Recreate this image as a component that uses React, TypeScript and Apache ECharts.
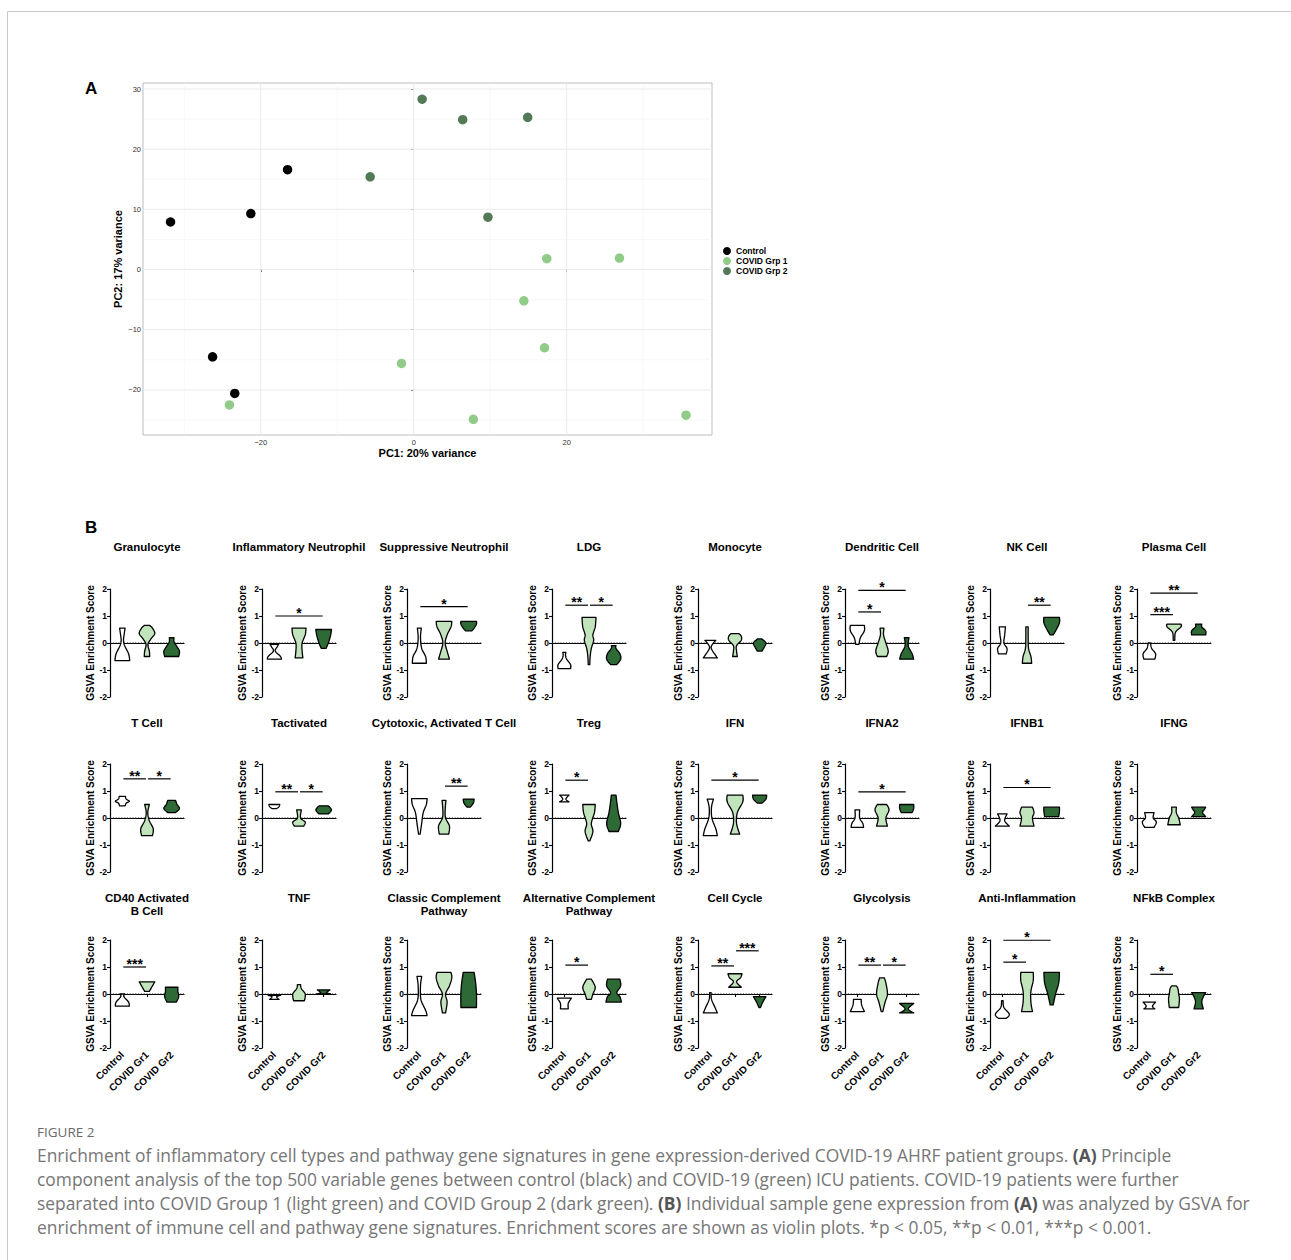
import React, { useEffect, useRef } from 'react';
import * as echarts from 'echarts';

// ---------------- DATA ----------------
// Panel A: PCA scores [PC1, PC2]
const pcaControl = [[-31.8, 7.9], [-21.3, 9.3], [-16.5, 16.6], [-26.3, -14.5], [-23.4, -20.6]];
const pcaGrp1 = [[-24.1, -22.5], [-1.6, -15.6], [7.8, -24.9], [14.4, -5.2], [17.1, -13.0], [17.4, 1.8], [26.9, 1.9], [35.6, -24.2]];
const pcaGrp2 = [[1.1, 28.3], [6.4, 24.9], [14.9, 25.3], [-5.7, 15.4], [9.7, 8.7]];
const pcaXTicks = [-20, 0, 20];
const pcaYTicks = [-20, -10, 0, 10, 20, 30];
const pcaXMinor = [-30, -10, 10, 30];
const pcaYMinor = [-25, -15, -5, 5, 15, 25];
const pcaLegend = ['Control', 'COVID Grp 1', 'COVID Grp 2'];

// Panel B: violin outlines, per group: [score, relative half-width] from min to max
const groupLabels = ['Control', 'COVID Gr1', 'COVID Gr2'];
const yTicksB = [-2, -1, 0, 1, 2];

const granulocyte = [
  [[-0.65, 0.95], [-0.4, 0.8], [-0.1, 0.3], [0.1, 0.15], [0.35, 0.25], [0.55, 0.35]],
  [[-0.5, 0.35], [-0.3, 0.3], [-0.05, 0.12], [0.15, 0.5], [0.35, 1.0], [0.55, 0.7], [0.65, 0.35]],
  [[-0.5, 0.9], [-0.3, 1.0], [-0.1, 0.6], [0.05, 0.3], [0.2, 0.3]],
];
const inflammatoryNeutrophil = [
  [[-0.6, 0.9], [-0.5, 0.8], [-0.3, 0.12], [-0.15, 0.35], [-0.05, 0.55]],
  [[-0.55, 0.5], [-0.3, 0.4], [0, 0.4], [0.3, 0.8], [0.55, 0.9]],
  [[-0.2, 0.3], [0, 0.6], [0.3, 0.9], [0.5, 1.0]],
];
const suppressiveNeutrophil = [
  [[-0.75, 0.9], [-0.5, 0.8], [-0.2, 0.3], [0.2, 0.15], [0.55, 0.25]],
  [[-0.6, 0.7], [-0.3, 0.4], [0, 0.15], [0.3, 0.4], [0.6, 0.9], [0.8, 1.0]],
  [[0.45, 0.4], [0.55, 0.7], [0.7, 1.0], [0.8, 1.0]],
];
const ldg = [
  [[-0.95, 0.8], [-0.8, 0.8], [-0.6, 0.3], [-0.45, 0.15], [-0.35, 0.2]],
  [[-0.8, 0.1], [-0.5, 0.15], [-0.2, 0.3], [0.1, 0.6], [0.3, 0.5], [0.6, 0.8], [0.95, 0.9]],
  [[-0.8, 0.4], [-0.6, 0.9], [-0.4, 0.8], [-0.2, 0.3], [-0.1, 0.3]],
];
const monocyte = [
  [[-0.55, 0.9], [-0.3, 0.3], [-0.15, 0.1], [0, 0.4], [0.1, 0.7]],
  [[-0.5, 0.3], [-0.3, 0.2], [-0.1, 0.2], [0.1, 0.8], [0.25, 0.8], [0.35, 0.5]],
  [[-0.3, 0.3], [-0.15, 0.6], [0, 0.8], [0.15, 0.3]],
];
const dendriticCell = [
  [[-0.05, 0.2], [0.2, 0.4], [0.45, 0.9], [0.65, 0.9]],
  [[-0.5, 0.6], [-0.3, 0.8], [0, 0.5], [0.3, 0.2], [0.55, 0.25]],
  [[-0.6, 0.9], [-0.4, 0.7], [-0.1, 0.2], [0.2, 0.3]],
];
const nkCell = [
  [[-0.4, 0.5], [-0.2, 0.6], [0, 0.2], [0.3, 0.3], [0.6, 0.4]],
  [[-0.75, 0.6], [-0.5, 0.5], [-0.2, 0.2], [0.2, 0.15], [0.6, 0.15]],
  [[0.3, 0.2], [0.5, 0.6], [0.75, 1.0], [0.95, 1.0]],
];
const plasmaCell = [
  [[-0.6, 0.7], [-0.4, 0.8], [-0.2, 0.3], [0, 0.15]],
  [[0.1, 0.1], [0.4, 0.2], [0.6, 0.9], [0.7, 0.9]],
  [[0.3, 0.9], [0.45, 0.9], [0.6, 0.4], [0.7, 0.4]],
];
const tCell = [
  [[0.45, 0.35], [0.55, 0.5], [0.62, 0.9], [0.7, 0.5], [0.8, 0.4]],
  [[-0.65, 0.7], [-0.4, 0.8], [-0.1, 0.3], [0.2, 0.1], [0.5, 0.3]],
  [[0.2, 0.5], [0.35, 1.0], [0.5, 0.7], [0.65, 0.5]],
];
const tActivated = [
  [[0.35, 0.3], [0.42, 0.6], [0.5, 0.7]],
  [[-0.3, 0.6], [-0.15, 0.8], [0, 0.2], [0.3, 0.3]],
  [[0.15, 0.6], [0.3, 1.0], [0.45, 0.6]],
];
const cytotoxicTCell = [
  [[-0.6, 0.1], [-0.2, 0.3], [0.2, 0.5], [0.5, 0.9], [0.72, 1.0]],
  [[-0.6, 0.6], [-0.3, 0.7], [0, 0.2], [0.3, 0.15], [0.65, 0.25]],
  [[0.4, 0.2], [0.55, 0.6], [0.7, 0.7]],
];
const treg = [
  [[0.6, 0.6], [0.7, 0.2], [0.85, 0.6]],
  [[-0.85, 0.1], [-0.5, 0.5], [-0.2, 0.3], [0.2, 0.7], [0.5, 0.8]],
  [[-0.5, 0.6], [-0.2, 0.9], [0.2, 0.6], [0.6, 0.4], [0.85, 0.3]],
];
const ifn = [
  [[-0.65, 0.9], [-0.4, 0.7], [0, 0.2], [0.4, 0.15], [0.7, 0.4]],
  [[-0.6, 0.6], [-0.2, 0.2], [0.2, 0.3], [0.6, 1.0], [0.85, 1.0]],
  [[0.55, 0.3], [0.7, 0.8], [0.85, 0.9]],
];
const ifna2 = [
  [[-0.35, 0.8], [-0.2, 0.7], [0, 0.3], [0.3, 0.3]],
  [[-0.3, 0.7], [0, 0.5], [0.3, 0.9], [0.5, 0.6]],
  [[0.2, 0.7], [0.35, 0.9], [0.5, 0.9]],
];
const ifnb1 = [
  [[-0.3, 0.9], [-0.1, 0.3], [0.15, 0.6]],
  [[-0.3, 0.9], [0, 0.7], [0.2, 0.9], [0.4, 0.7]],
  [[0.05, 0.9], [0.25, 1.0], [0.4, 1.0]],
];
const ifng = [
  [[-0.35, 0.6], [-0.15, 0.9], [0, 0.5], [0.2, 0.6]],
  [[-0.25, 0.8], [0, 0.6], [0.2, 0.3], [0.4, 0.3]],
  [[0.05, 0.9], [0.2, 0.5], [0.3, 0.7], [0.4, 0.9]],
];
const cd40BCell = [
  [[-0.45, 0.9], [-0.3, 0.8], [-0.1, 0.2], [0, 0.3]],
  [[0.1, 0.3], [0.3, 0.7], [0.45, 1.0]],
  [[-0.3, 0.6], [-0.1, 0.9], [0.1, 0.8], [0.25, 0.8]],
];
const tnf = [
  [[-0.2, 0.6], [-0.1, 0.3], [-0.05, 0.8]],
  [[-0.25, 0.7], [0, 0.8], [0.2, 0.3], [0.35, 0.2]],
  [[0, 0.9], [0.05, 0.4], [0.15, 0.8]],
];
const classicComplement = [
  [[-0.8, 1.0], [-0.6, 0.8], [-0.2, 0.2], [0.3, 0.15], [0.65, 0.3]],
  [[-0.7, 0.2], [-0.3, 0.4], [0, 0.2], [0.3, 0.7], [0.6, 1.0], [0.8, 0.9]],
  [[-0.5, 1.0], [0, 1.0], [0.4, 0.9], [0.8, 0.7]],
];
const altComplement = [
  [[-0.55, 0.5], [-0.35, 0.5], [-0.2, 0.8], [-0.15, 0.9]],
  [[-0.2, 0.3], [0, 0.5], [0.25, 0.8], [0.55, 0.3]],
  [[-0.3, 1.0], [-0.1, 0.8], [0.05, 0.4], [0.3, 0.9], [0.55, 0.8]],
];
const cellCycle = [
  [[-0.7, 0.9], [-0.5, 0.6], [-0.2, 0.15], [0.05, 0.1]],
  [[0.25, 0.8], [0.45, 0.2], [0.6, 0.7], [0.75, 0.9]],
  [[-0.5, 0.1], [-0.3, 0.4], [-0.1, 0.8]],
];
const glycolysis = [
  [[-0.65, 0.9], [-0.45, 0.6], [-0.3, 0.5], [-0.2, 0.5]],
  [[-0.65, 0.1], [-0.3, 0.4], [0, 0.7], [0.4, 0.5], [0.6, 0.3]],
  [[-0.7, 0.9], [-0.55, 0.2], [-0.35, 0.9]],
];
const antiInflammation = [
  [[-0.9, 0.5], [-0.75, 0.9], [-0.5, 0.2], [-0.25, 0.1]],
  [[-0.65, 0.7], [-0.3, 0.5], [0.1, 0.5], [0.5, 0.8], [0.8, 0.8]],
  [[-0.4, 0.2], [0, 0.5], [0.4, 0.9], [0.8, 1.0]],
];
const nfkbComplex = [
  [[-0.55, 0.7], [-0.45, 0.4], [-0.3, 0.8]],
  [[-0.5, 0.6], [-0.2, 0.7], [0, 0.6], [0.2, 0.5], [0.3, 0.3]],
  [[-0.55, 0.6], [-0.3, 0.4], [-0.1, 0.6], [0.05, 0.9]],
];

const panelTitles = [
  'Granulocyte', 'Inflammatory Neutrophil', 'Suppressive Neutrophil', 'LDG', 'Monocyte', 'Dendritic Cell', 'NK Cell', 'Plasma Cell',
  'T Cell', 'Tactivated', 'Cytotoxic, Activated T Cell', 'Treg', 'IFN', 'IFNA2', 'IFNB1', 'IFNG',
  'CD40 Activated\nB Cell', 'TNF', 'Classic Complement\nPathway', 'Alternative Complement\nPathway', 'Cell Cycle', 'Glycolysis', 'Anti-Inflammation', 'NFkB Complex',
];
const panelViolins = [
  granulocyte, inflammatoryNeutrophil, suppressiveNeutrophil, ldg, monocyte, dendriticCell, nkCell, plasmaCell,
  tCell, tActivated, cytotoxicTCell, treg, ifn, ifna2, ifnb1, ifng,
  cd40BCell, tnf, classicComplement, altComplement, cellCycle, glycolysis, antiInflammation, nfkbComplex,
];
// significance: [panel, fromGroup, toGroup, barHeight, label]
const sigBars: [number, number, number, number, string][] = [
  [1, 0, 2, 1.0, '*'], [2, 0, 2, 1.35, '*'], [3, 0, 1, 1.4, '**'], [3, 1, 2, 1.4, '*'],
  [5, 0, 2, 1.95, '*'], [5, 0, 1, 1.15, '*'], [6, 1, 2, 1.4, '**'], [7, 0, 2, 1.85, '**'], [7, 0, 1, 1.05, '***'],
  [8, 0, 1, 1.45, '**'], [8, 1, 2, 1.45, '*'], [9, 0, 1, 0.97, '**'], [9, 1, 2, 0.97, '*'], [10, 1, 2, 1.18, '**'], [11, 0, 1, 1.4, '*'],
  [12, 0, 2, 1.4, '*'], [13, 0, 2, 0.97, '*'], [14, 0, 2, 1.13, '*'],
  [16, 0, 1, 1.0, '***'], [19, 0, 1, 1.07, '*'], [20, 0, 1, 1.04, '**'], [20, 1, 2, 1.6, '***'],
  [21, 0, 1, 1.07, '**'], [21, 1, 2, 1.07, '*'], [22, 0, 2, 1.99, '*'], [22, 0, 1, 1.18, '*'], [23, 0, 1, 0.73, '*'],
];

const captionLines = [
  'Enrichment of inflammatory cell types and pathway gene signatures in gene expression-derived COVID-19 AHRF patient groups. {b|(A)} Principle',
  'component analysis of the top 500 variable genes between control (black) and COVID-19 (green) ICU patients. COVID-19 patients were further',
  'separated into COVID Group 1 (light green) and COVID Group 2 (dark green). {b|(B)} Individual sample gene expression from {b|(A)} was analyzed by GSVA for',
  'enrichment of immune cell and pathway gene signatures. Enrichment scores are shown as violin plots. *p < 0.05, **p < 0.01, ***p < 0.001.',
];

// ---------------- LAYOUT / STYLE ----------------
const W = 1291;
const H = 1260;
const colLefts = [110, 262, 407, 552, 698, 845, 990, 1137];
const rowTops = [589, 764, 940];
const titleTops = [540, 716, 891];
const plotW = 74;
const plotH = 108;
const HALF = 7.8;
const violinFill = ['#ffffff', '#c2e4bc', '#2e6a36'];
const pcaColors = ['#000000', '#90cc88', '#527a56'];
const SANS = "'Liberation Sans', Arial, Helvetica, sans-serif";
const NARROW = "'Liberation Sans Narrow', 'Liberation Sans', Arial, sans-serif";
const CAPTION = "'Open Sans', Lato, sans-serif";
const CAPTION_SIZE = 17.4;

function sampleProfile(prof: number[][]): number[][] {
  const out: number[][] = [];
  const n = prof.length;
  const steps = 8;
  for (let i = 0; i < n - 1; i++) {
    const p0 = prof[Math.max(i - 1, 0)];
    const p1 = prof[i];
    const p2 = prof[i + 1];
    const p3 = prof[Math.min(i + 2, n - 1)];
    for (let s = 0; s < steps; s++) {
      const t = s / steps;
      const t2 = t * t;
      const t3 = t2 * t;
      const f = (a: number, b: number, c: number, d: number) =>
        0.5 * (2 * b + (-a + c) * t + (2 * a - 5 * b + 4 * c - d) * t2 + (-a + 3 * b - 3 * c + d) * t3);
      out.push([f(p0[0], p1[0], p2[0], p3[0]), Math.max(0.05, f(p0[1], p1[1], p2[1], p3[1]))]);
    }
  }
  out.push(prof[n - 1]);
  return out;
}

function buildOption() {
  const grids: any[] = [{ left: 143, top: 83, width: 569, height: 352, show: true, borderColor: '#bdbdbd', borderWidth: 1, backgroundColor: '#fff' }];
  const xAxes: any[] = [{
    type: 'value', gridIndex: 0, min: -35.4, max: 39,
    axisLine: { show: false }, splitLine: { show: false },
    axisTick: { show: true, length: 2.5, lineStyle: { color: '#333', width: 0.8 }, customValues: pcaXTicks },
    axisLabel: { customValues: pcaXTicks, fontSize: 7.5, color: '#333', fontFamily: NARROW, margin: 3, formatter: (v: number) => String(v).replace('-', '\u2212') },
    name: 'PC1: 20% variance', nameLocation: 'middle', nameGap: 12,
    nameTextStyle: { fontSize: 11, fontWeight: 'bold', color: '#000', fontFamily: NARROW },
  }];
  const yAxes: any[] = [{
    type: 'value', gridIndex: 0, min: -27.5, max: 31,
    axisLine: { show: false }, splitLine: { show: false },
    axisTick: { show: true, length: 2.5, lineStyle: { color: '#333', width: 0.8 }, customValues: pcaYTicks },
    axisLabel: { customValues: pcaYTicks, fontSize: 7.5, color: '#333', fontFamily: NARROW, margin: 2, formatter: (v: number) => String(v).replace('-', '\u2212') },
    name: 'PC2: 17% variance', nameLocation: 'middle', nameGap: 20,
    nameTextStyle: { fontSize: 11, fontWeight: 'bold', color: '#000', fontFamily: NARROW },
  }];

  const gridData: number[][] = [];
  pcaXTicks.forEach((v) => gridData.push([v, 0, 1]));
  pcaXMinor.forEach((v) => gridData.push([v, 0, 0]));
  pcaYTicks.forEach((v) => gridData.push([v, 1, 1]));
  pcaYMinor.forEach((v) => gridData.push([v, 1, 0]));

  const series: any[] = [
    {
      type: 'custom', xAxisIndex: 0, yAxisIndex: 0, z: 1, silent: true,
      data: gridData,
      renderItem: (params: any, api: any) => {
        const cs = params.coordSys;
        const v = api.value(0);
        const orient = api.value(1);
        const major = api.value(2);
        const style = { stroke: major ? '#e8e8e8' : '#f3f3f3', lineWidth: major ? 0.9 : 0.6 };
        if (orient === 0) {
          const x = api.coord([v, 0])[0];
          return { type: 'line', shape: { x1: x, y1: cs.y, x2: x, y2: cs.y + cs.height }, style };
        }
        const y = api.coord([0, v])[1];
        return { type: 'line', shape: { x1: cs.x, y1: y, x2: cs.x + cs.width, y2: y }, style };
      },
    },
    ...[pcaControl, pcaGrp1, pcaGrp2].map((d, i) => ({
      type: 'scatter', name: pcaLegend[i], xAxisIndex: 0, yAxisIndex: 0, z: 3,
      data: d, symbolSize: 9.5, itemStyle: { color: pcaColors[i], opacity: 1 },
    })),
  ];

  const graphics: any[] = [
    { type: 'polyline', shape: { points: [[7.5, H], [7.5, 11.5], [W, 11.5]] }, style: { stroke: '#c9c9c9', lineWidth: 1, fill: null } },
    { type: 'text', x: 85, y: 88, style: { text: 'A', fontSize: 17, fontWeight: 'bold', fontFamily: SANS, fill: '#000', verticalAlign: 'middle', textVerticalAlign: 'middle' } },
    { type: 'text', x: 85, y: 527, style: { text: 'B', fontSize: 17, fontWeight: 'bold', fontFamily: SANS, fill: '#000', verticalAlign: 'middle', textVerticalAlign: 'middle' } },
    { type: 'text', x: 37, y: 1132, style: { text: 'FIGURE 2', fontSize: 13.5, fontFamily: CAPTION, fill: '#6a6a6a', verticalAlign: 'middle', textVerticalAlign: 'middle' } },
  ];
  captionLines.forEach((line, i) => {
    graphics.push({
      type: 'text', x: 37, y: 1155 + i * 24,
      style: {
        text: line, fontSize: CAPTION_SIZE, fontFamily: CAPTION, fill: '#767676',
        verticalAlign: 'middle', textVerticalAlign: 'middle',
        rich: { b: { fontSize: CAPTION_SIZE, fontWeight: 'bold', fontFamily: CAPTION, fill: '#555', color: '#555' } },
      },
    });
  });

  panelViolins.forEach((violins, p) => {
    const r = Math.floor(p / 8);
    const c = p % 8;
    const gi = p + 1;
    const left = colLefts[c];
    const top = rowTops[r];
    grids.push({ left, top, width: plotW, height: plotH });
    const lastRow = r === 2;
    xAxes.push({
      type: 'category', gridIndex: gi, data: groupLabels, boundaryGap: true,
      axisLine: { show: true, lineStyle: { color: '#000', width: 1.2 } },
      axisTick: { show: lastRow, length: 3, alignWithLabel: true, lineStyle: { color: '#000', width: 1.1 } },
      axisLabel: { show: lastRow, interval: 0, rotate: 45, fontSize: 10, fontWeight: 'bold', color: '#000', fontFamily: SANS, margin: 5 },
      splitLine: { show: false },
    });
    yAxes.push({
      type: 'value', gridIndex: gi, min: -2, max: 2, interval: 1,
      axisLine: { show: true, lineStyle: { color: '#000', width: 1.2 } },
      axisTick: { show: true, length: 3, lineStyle: { color: '#000', width: 1.1 } },
      axisLabel: { fontSize: 8.5, fontWeight: 'bold', color: '#000', fontFamily: SANS, margin: 3, customValues: yTicksB },
      splitLine: { show: false },
      name: 'GSVA Enrichment Score', nameLocation: 'middle', nameGap: 15,
      nameTextStyle: { fontSize: 10, fontWeight: 'bold', color: '#000', fontFamily: SANS },
    });

    graphics.push({
      type: 'text', x: left + plotW / 2, y: titleTops[r],
      style: {
        text: panelTitles[p], fontSize: 11.5, fontWeight: 'bold', fontFamily: SANS, fill: '#000', lineHeight: 13.5,
        align: 'center', textAlign: 'center', verticalAlign: 'top', textVerticalAlign: 'top',
      },
    });

    // dotted zero line
    series.push({
      type: 'custom', xAxisIndex: gi, yAxisIndex: gi, z: 2, silent: true,
      data: [[0, 0]],
      renderItem: (params: any, api: any) => {
        const cs = params.coordSys;
        const y = api.coord([0, api.value(1)])[1];
        return { type: 'line', shape: { x1: cs.x, y1: y, x2: cs.x + cs.width, y2: y }, style: { stroke: '#222', lineWidth: 1, lineDash: [1.2, 1.6] } };
      },
    });

    const sampled = violins.map(sampleProfile);
    series.push({
      type: 'custom', xAxisIndex: gi, yAxisIndex: gi, z: 3, silent: true,
      data: violins.map((v, g) => [g, v[0][0], v[v.length - 1][0]]),
      renderItem: (params: any, api: any) => {
        const g = params.dataIndex;
        const prof = sampled[g];
        const cx = api.coord([g, 0])[0];
        const right = prof.map(([y, w]) => [cx + w * HALF, api.coord([g, y])[1]]);
        const leftSide = prof.slice().reverse().map(([y, w]) => [cx - w * HALF, api.coord([g, y])[1]]);
        return {
          type: 'polygon',
          shape: { points: right.concat(leftSide) },
          style: { fill: violinFill[g], stroke: '#000', lineWidth: 1.3, lineJoin: 'round' },
        };
      },
    });

    const bars = sigBars.filter((b) => b[0] === p);
    if (bars.length) {
      series.push({
        type: 'custom', xAxisIndex: gi, yAxisIndex: gi, z: 4, silent: true,
        data: bars.map((b) => [b[1], b[3], b[2]]),
        renderItem: (params: any, api: any) => {
          const b = bars[params.dataIndex];
          const a = api.coord([api.value(0), api.value(1)]);
          const e = api.coord([api.value(2), api.value(1)]);
          const x1 = a[0] + 1;
          const x2 = e[0] - 1;
          return {
            type: 'group',
            children: [
              { type: 'line', shape: { x1, y1: a[1], x2, y2: a[1] }, style: { stroke: '#000', lineWidth: 1.2 } },
              {
                type: 'text', x: (x1 + x2) / 2, y: a[1] - 3,
                style: { text: b[4], fontSize: 14, fontWeight: 'bold', fontFamily: SANS, fill: '#000', align: 'center', verticalAlign: 'middle' },
              },
            ],
          };
        },
      });
    }
  });

  return {
    animation: false,
    backgroundColor: '#ffffff',
    grid: grids,
    xAxis: xAxes,
    yAxis: yAxes,
    legend: {
      data: pcaLegend, orient: 'vertical', left: 723, top: 246, padding: 0, itemWidth: 8, itemHeight: 8, itemGap: 0,
      icon: 'circle', selectedMode: false,
      textStyle: { fontSize: 8.5, fontWeight: 'bold', color: '#000', fontFamily: NARROW, lineHeight: 10 },
    },
    graphic: { elements: graphics },
    series,
  };
}

export default function App() {
  const ref = useRef<HTMLDivElement>(null);
  useEffect(() => {
    if (!ref.current) return;
    const chart = echarts.init(ref.current, null, { renderer: 'svg', width: W, height: H });
    chart.setOption(buildOption() as any);
    return () => chart.dispose();
  }, []);
  return <div ref={ref} style={{ position: 'absolute', left: 0, top: 0, width: W, height: H, background: '#fff' }} />;
}
